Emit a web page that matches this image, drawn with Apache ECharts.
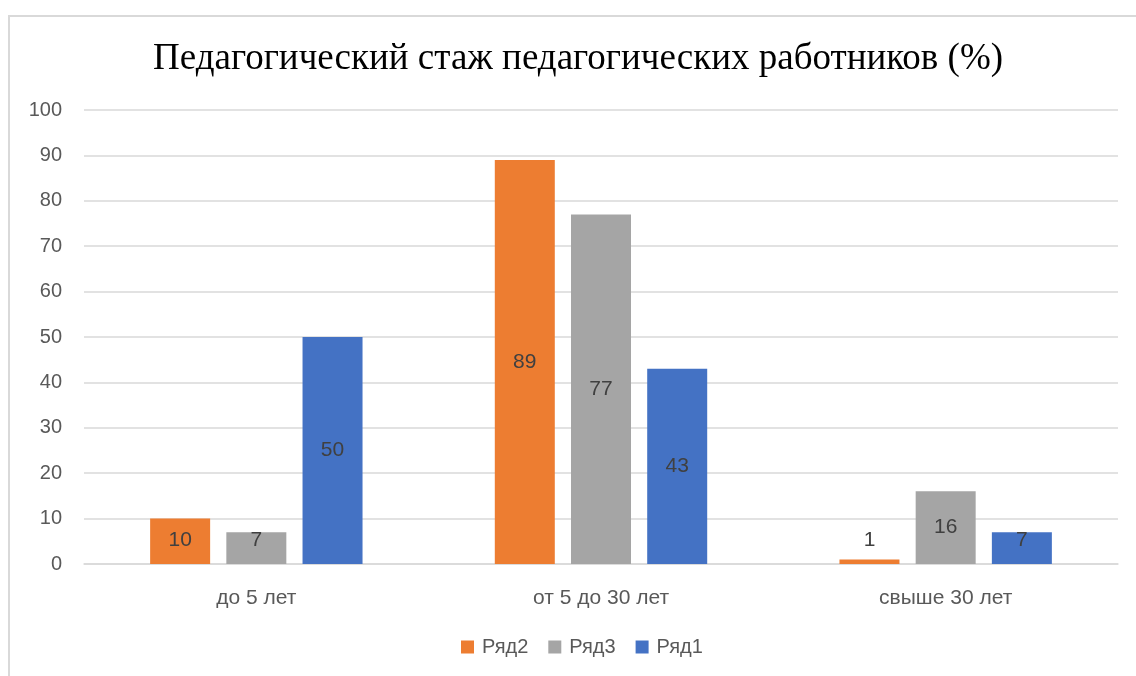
<!DOCTYPE html>
<html>
<head>
<meta charset="utf-8">
<script src="https://cdn.jsdelivr.net/npm/echarts@6/dist/echarts.min.js"></script>
<style>
  html, body { margin: 0; padding: 0; background: #fff; }
  #chart { width: 1136px; height: 676px; }
  .frame {
    position: absolute; left: 8px; top: 15px;
    width: 1150px; height: 700px;
    border: 2px solid #d9d9d9; box-sizing: border-box;
    pointer-events: none;
  }
</style>
</head>
<body>
<div id="chart"></div>
<div class="frame"></div>
<script>
var titleText = "Педагогический стаж педагогических работников (%)";
var categories = ["до 5 лет", "от 5 до 30 лет", "свыше 30 лет"];
var seriesNames = ["Ряд2", "Ряд3", "Ряд1"];
var ryad2 = [10, 89, 1];
var ryad3 = [7, 77, 16];
var ryad1 = [50, 43, 7];
var colors = ["#ed7d31", "#a5a5a5", "#4472c4"];

// small bars: Excel keeps the label just above the axis
function items(values) {
  return values.map(function (v) {
    if (v < 10.5) {
      return { value: v, label: { position: "insideBottom", distance: 13 } };
    }
    return v;
  });
}

var labelFont = "Liberation Sans";
var allData = [ryad2, ryad3, ryad1];

var chart = echarts.init(document.getElementById("chart"));
chart.setOption({
  animation: false,
  color: colors,
  title: {
    text: titleText,
    left: 148,
    top: 36,
    textStyle: { fontFamily: "Liberation Serif", fontSize: 37, fontWeight: "normal", color: "#000" }
  },
  grid: { left: 84, right: 18, top: 110, bottom: 112 },
  legend: {
    bottom: 14,
    left: 456,
    itemWidth: 13,
    itemHeight: 13,
    itemGap: 20,
    icon: "rect",
    data: seriesNames,
    textStyle: { fontFamily: labelFont, fontSize: 20, color: "#595959", padding: [0, 0, 0, 3] }
  },
  xAxis: {
    type: "category",
    data: categories,
    axisLine: { lineStyle: { color: "#d9d9d9", width: 1.5 } },
    axisTick: { show: false },
    axisLabel: { margin: 24, fontFamily: labelFont, fontSize: 21, color: "#595959" }
  },
  yAxis: {
    type: "value",
    min: 0,
    max: 100,
    interval: 10,
    axisLine: { show: false },
    axisTick: { show: false },
    axisLabel: { margin: 22, fontFamily: labelFont, fontSize: 20, color: "#595959" },
    splitLine: { lineStyle: { color: "#d9d9d9", width: 1.5 } }
  },
  series: seriesNames.map(function (name, i) {
    return {
      name: name,
      type: "bar",
      barWidth: 60,
      barGap: "27%",
      data: items(allData[i]),
      label: {
        show: true,
        position: "inside",
        fontFamily: labelFont,
        fontSize: 21,
        color: "#404040"
      }
    };
  })
});
</script>
</body>
</html>
